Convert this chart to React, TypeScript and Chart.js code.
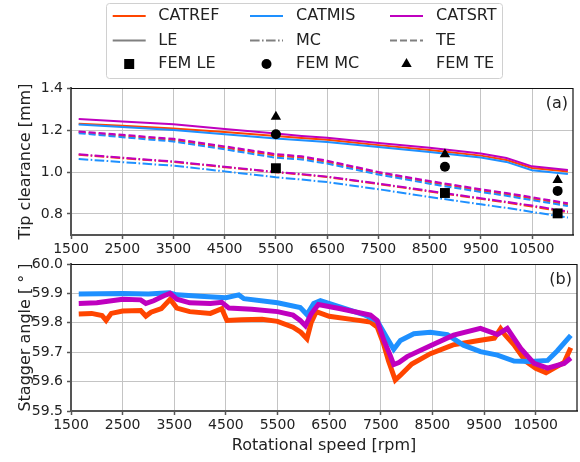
import { useEffect, useRef } from "react";
import { Chart, registerables } from "chart.js";

Chart.register(...registerables);

const FONT = "'DejaVu Sans', 'Liberation Sans', sans-serif";
const TEXT = "#222222";
const GRID = "#c4c4c4";
const SPINE = "#555555";

const REF_COLOR = "#ff4500";
const MIS_COLOR = "#1e90ff";
const SRT_COLOR = "#bf00bf";

// Shared x axis
const speedTicks = [1500, 2500, 3500, 4500, 5500, 6500, 7500, 8500, 9500, 10500];
const speedMin = 1500;
const speedMax = 11300;

// (a) tip clearance [mm]
const clearanceTicks = [0.8, 1.0, 1.2, 1.4];
const tipRpm = [1650, 2500, 3500, 4500, 5500, 6000, 6500, 7500, 8500, 9500, 10000, 10500, 11200];

const refLE = [1.23, 1.22, 1.207, 1.19, 1.172, 1.162, 1.153, 1.128, 1.105, 1.078, 1.057, 1.019, 1.002];
const misLE = [1.226, 1.214, 1.2, 1.18, 1.16, 1.151, 1.143, 1.119, 1.095, 1.069, 1.048, 1.008, 0.99];
const srtLE = [1.252, 1.241, 1.227, 1.205, 1.183, 1.172, 1.163, 1.138, 1.116, 1.088, 1.067, 1.027, 1.01];

const refMC = [1.082, 1.066, 1.048, 1.023, 0.999, 0.988, 0.976, 0.943, 0.907, 0.872, 0.855, 0.836, 0.808];
const misMC = [1.062, 1.047, 1.03, 1.003, 0.975, 0.964, 0.952, 0.918, 0.881, 0.846, 0.829, 0.81, 0.783];
const srtMC = [1.084, 1.068, 1.05, 1.025, 1.0, 0.99, 0.978, 0.945, 0.91, 0.875, 0.858, 0.84, 0.812];

const refTE = [1.19, 1.172, 1.152, 1.116, 1.078, 1.068, 1.048, 0.996, 0.952, 0.912, 0.894, 0.874, 0.845];
const misTE = [1.185, 1.166, 1.145, 1.108, 1.068, 1.06, 1.04, 0.988, 0.944, 0.905, 0.887, 0.866, 0.838];
const srtTE = [1.193, 1.177, 1.158, 1.122, 1.085, 1.075, 1.054, 1.0, 0.957, 0.918, 0.9, 0.88, 0.851];

const femRpm = [5500, 8800, 11000];
const femLE = [1.018, 0.9, 0.803];
const femMC = [1.18, 1.025, 0.91];
const femTE = [1.263, 1.085, 0.962];

// (b) stagger angle [deg]
const staggerTicks = [59.5, 59.6, 59.7, 59.8, 59.9, 60.0];

const refStaggerRpm = [
  1650, 1900, 2100, 2180, 2280, 2500, 2850, 2950, 3050, 3250, 3420, 3550, 3800, 4200, 4420, 4520,
  4800, 5200, 5500, 5800, 5950, 6070, 6150, 6250, 6500, 7000, 7300, 7430, 7550, 7650, 7780, 7900,
  8100, 8460, 8900, 9400, 9700, 9820, 9900, 10080, 10300, 10500, 10700, 10900, 11050, 11180,
];
const refStagger = [
  59.83, 59.832, 59.825, 59.808, 59.832, 59.84, 59.842, 59.823, 59.836, 59.848, 59.88, 59.85, 59.838,
  59.832, 59.848, 59.808, 59.81, 59.812, 59.805, 59.785, 59.768, 59.746, 59.8, 59.838, 59.822, 59.81,
  59.803, 59.786, 59.73, 59.67, 59.605, 59.625, 59.66, 59.695, 59.725, 59.74, 59.748, 59.78, 59.76,
  59.725, 59.67, 59.645, 59.63, 59.65, 59.665, 59.715,
];

const misStaggerRpm = [
  1650, 2500, 3000, 3400, 3550, 4000, 4500, 4750, 4850, 5500, 5940, 6070, 6200, 6330, 7170, 7430,
  7620, 7750, 7880, 8140, 8460, 8790, 9100, 9430, 9760, 10080, 10400, 10730, 10920, 11180,
];
const misStagger = [
  59.898, 59.9, 59.898, 59.902, 59.895, 59.89, 59.885, 59.895, 59.882, 59.868, 59.852, 59.828, 59.866,
  59.875, 59.828, 59.806, 59.748, 59.71, 59.74, 59.763, 59.768, 59.76, 59.724, 59.702, 59.69, 59.67,
  59.668, 59.672, 59.705, 59.757,
];

const srtStaggerRpm = [
  1650, 2000, 2500, 2850, 2950, 3100, 3300, 3420, 3550, 3800, 4200, 4420, 4560, 5000, 5500, 5800,
  5940, 6040, 6150, 6290, 6720, 7300, 7430, 7560, 7680, 7750, 7850, 8010, 8460, 8910, 9430, 9760,
  9950, 10210, 10470, 10730, 11050, 11180,
];
const srtStagger = [
  59.866, 59.868, 59.88, 59.878, 59.866, 59.875, 59.892, 59.9, 59.88, 59.868, 59.866, 59.87, 59.85,
  59.846, 59.838, 59.826, 59.808, 59.79, 59.83, 59.862, 59.848, 59.826, 59.808, 59.74, 59.69, 59.658,
  59.665, 59.685, 59.722, 59.758, 59.781, 59.76, 59.781, 59.713, 59.662, 59.646, 59.662, 59.68,
];

// Key entries
const caseNames = ["CATREF", "CATMIS", "CATSRT"];
const caseColors = [REF_COLOR, MIS_COLOR, SRT_COLOR];
const locationNames = ["LE", "MC", "TE"];
const femNames = ["FEM LE", "FEM MC", "FEM TE"];

const SOLID: number[] = [];
const DASH_DOT = [9.6, 2.4, 1.6, 2.4];
const DASHED = [7, 3];
const locationDashes = [SOLID, DASH_DOT, DASHED];
const femShapes = ["rect", "circle", "triangle"];

const pts = (xs: number[], ys: number[]) => xs.map((x, i) => ({ x, y: ys[i] }));

function drawMarker(ctx: CanvasRenderingContext2D, shape: string, x: number, y: number) {
  ctx.beginPath();
  if (shape === "rect") {
    ctx.rect(x - 5, y - 5, 10, 10);
  } else if (shape === "circle") {
    ctx.arc(x, y, 5, 0, Math.PI * 2);
  } else {
    ctx.moveTo(x, y - 6);
    ctx.lineTo(x + 5.2, y + 3);
    ctx.lineTo(x - 5.2, y + 3);
    ctx.closePath();
  }
  ctx.fill();
}

const xAxis = (height: number, withTitle: boolean): any => ({
  type: "linear",
  min: speedMin,
  max: speedMax,
  afterBuildTicks: (axis: any) => {
    axis.ticks = speedTicks.map((value) => ({ value }));
  },
  afterFit: (axis: any) => {
    axis.height = height;
  },
  ticks: {
    autoSkip: false,
    maxRotation: 0,
    padding: 2,
    color: TEXT,
    font: { family: FONT, size: 14 },
    callback: (v: number | string) => String(v),
  },
  grid: { color: GRID, lineWidth: 1, drawTicks: true, tickLength: 4, tickColor: SPINE, tickWidth: 1.5 },
  border: { color: SPINE, width: 2 },
  title: {
    display: withTitle,
    text: "Rotational speed [rpm]",
    color: TEXT,
    font: { family: FONT, size: 16 },
    padding: { top: 0, bottom: 7 },
  },
});

const yAxis = (min: number, max: number, ticks: number[], title: string): any => ({
  type: "linear",
  min,
  max,
  afterBuildTicks: (axis: any) => {
    axis.ticks = ticks.map((value) => ({ value }));
  },
  afterFit: (axis: any) => {
    axis.width = 71;
  },
  ticks: {
    autoSkip: false,
    padding: 4,
    color: TEXT,
    font: { family: FONT, size: 14 },
    callback: (v: number | string) => Number(v).toFixed(1),
  },
  grid: { color: GRID, lineWidth: 1, drawTicks: true, tickLength: 4, tickColor: SPINE, tickWidth: 1.5 },
  border: { color: SPINE, width: 2 },
  title: {
    display: true,
    text: title,
    color: TEXT,
    font: { family: FONT, size: 16 },
    padding: { top: 16, bottom: 0 },
  },
});

// Top/right frame lines and the panel tag
const framePlugin = (tag: string, tagY: number) => ({
  id: "frame-" + tag,
  afterDraw(chart: any) {
    const { ctx, chartArea: a } = chart;
    ctx.save();
    ctx.strokeStyle = "#111111";
    ctx.lineWidth = 1.2;
    ctx.beginPath();
    ctx.moveTo(a.left, a.top + 0.5);
    ctx.lineTo(a.right, a.top + 0.5);
    ctx.lineTo(a.right, a.bottom);
    ctx.stroke();
    ctx.fillStyle = TEXT;
    ctx.font = `16px ${FONT}`;
    ctx.textAlign = "right";
    ctx.textBaseline = "middle";
    ctx.fillText(tag, a.right - 5, tagY);
    ctx.restore();
  },
});

// Three-column key above panel (a)
const keyPlugin = {
  id: "seriesKey",
  afterDraw(chart: any) {
    const ctx: CanvasRenderingContext2D = chart.ctx;
    ctx.save();
    const bx = 106.5, by = 3.5, bw = 396, bh = 75, r = 3;
    ctx.beginPath();
    ctx.moveTo(bx + r, by);
    ctx.arcTo(bx + bw, by, bx + bw, by + bh, r);
    ctx.arcTo(bx + bw, by + bh, bx, by + bh, r);
    ctx.arcTo(bx, by + bh, bx, by, r);
    ctx.arcTo(bx, by, bx + bw, by, r);
    ctx.closePath();
    ctx.fillStyle = "rgba(255,255,255,0.8)";
    ctx.fill();
    ctx.strokeStyle = "#d0d0d0";
    ctx.lineWidth = 1;
    ctx.stroke();

    const handleX = [112.7, 250, 390];
    const handleW = 33;
    const textX = [158.3, 296, 436];
    const rowY = [16, 40.5, 64];
    ctx.font = `16px ${FONT}`;
    ctx.textBaseline = "middle";
    ctx.textAlign = "left";
    for (let c = 0; c < 3; c++) {
      // case colour row
      ctx.setLineDash([]);
      ctx.strokeStyle = caseColors[c];
      ctx.lineWidth = 2;
      ctx.beginPath();
      ctx.moveTo(handleX[c], rowY[0]);
      ctx.lineTo(handleX[c] + handleW, rowY[0]);
      ctx.stroke();
      ctx.fillStyle = TEXT;
      ctx.fillText(caseNames[c], textX[c], rowY[0]);

      // blade location row
      ctx.setLineDash(locationDashes[c]);
      ctx.strokeStyle = "#808080";
      ctx.beginPath();
      ctx.moveTo(handleX[c], rowY[1]);
      ctx.lineTo(handleX[c] + handleW, rowY[1]);
      ctx.stroke();
      ctx.setLineDash([]);
      ctx.fillText(locationNames[c], textX[c], rowY[1]);

      // FEM marker row
      ctx.fillStyle = "#000000";
      drawMarker(ctx, femShapes[c], handleX[c] + handleW / 2, rowY[2]);
      ctx.fillStyle = TEXT;
      ctx.fillText(femNames[c], textX[c], rowY[2]);
    }
    ctx.restore();
  },
};

const lineSet = (label: string, xs: number[], ys: number[], color: string, dash: number[], order: number, width = 2) => ({
  label,
  data: pts(xs, ys),
  borderColor: color,
  backgroundColor: color,
  borderWidth: width,
  borderDash: dash,
  pointRadius: 0,
  tension: 0,
  fill: false,
  order,
});

const femSet = (label: string, ys: number[], shape: string, radius: number) => ({
  label,
  data: pts(femRpm, ys),
  showLine: false,
  pointStyle: shape,
  pointRadius: radius,
  pointBackgroundColor: "#000000",
  pointBorderColor: "#000000",
  pointBorderWidth: 0,
  order: 0,
});

export default function App() {
  const topRef = useRef<HTMLCanvasElement>(null);
  const bottomRef = useRef<HTMLCanvasElement>(null);

  useEffect(() => {
    const top = new Chart(topRef.current!, {
      type: "line",
      data: {
        datasets: [
          lineSet("CATREF LE", tipRpm, refLE, REF_COLOR, SOLID, 3),
          lineSet("CATMIS LE", tipRpm, misLE, MIS_COLOR, SOLID, 2),
          lineSet("CATSRT LE", tipRpm, srtLE, SRT_COLOR, SOLID, 1),
          lineSet("CATREF MC", tipRpm, refMC, REF_COLOR, DASH_DOT, 3),
          lineSet("CATMIS MC", tipRpm, misMC, MIS_COLOR, DASH_DOT, 2),
          lineSet("CATSRT MC", tipRpm, srtMC, SRT_COLOR, DASH_DOT, 1),
          lineSet("CATREF TE", tipRpm, refTE, REF_COLOR, DASHED, 3),
          lineSet("CATMIS TE", tipRpm, misTE, MIS_COLOR, DASHED, 2),
          lineSet("CATSRT TE", tipRpm, srtTE, SRT_COLOR, DASHED, 1),
          femSet("FEM LE", femLE, "rect", 7),
          femSet("FEM MC", femMC, "circle", 5),
          femSet("FEM TE", femTE, "triangle", 6),
        ] as any,
      },
      options: {
        animation: false,
        responsive: true,
        maintainAspectRatio: false,
        layout: { padding: { top: 88, right: 3, left: 0, bottom: 0 } },
        plugins: { legend: { display: false }, tooltip: { enabled: false } },
        scales: {
          x: xAxis(25, false),
          y: yAxis(0.7, 1.4, clearanceTicks, "Tip clearance [mm]"),
        },
      },
      plugins: [framePlugin("(a)", 104), keyPlugin],
    });

    const bottom = new Chart(bottomRef.current!, {
      type: "line",
      data: {
        datasets: [
          lineSet("CATREF", refStaggerRpm, refStagger, REF_COLOR, SOLID, 3, 5),
          lineSet("CATMIS", misStaggerRpm, misStagger, MIS_COLOR, SOLID, 2, 5),
          lineSet("CATSRT", srtStaggerRpm, srtStagger, SRT_COLOR, SOLID, 1, 5),
        ] as any,
      },
      options: {
        animation: false,
        responsive: true,
        maintainAspectRatio: false,
        layout: { padding: { top: 16, right: 3, left: 0, bottom: 0 } },
        plugins: { legend: { display: false }, tooltip: { enabled: false } },
        scales: {
          x: xAxis(51, true),
          y: yAxis(59.5, 60.0, staggerTicks, "Stagger angle [ ° ]"),
        },
      },
      plugins: [framePlugin("(b)", 31.5)],
    });

    return () => {
      top.destroy();
      bottom.destroy();
    };
  }, []);

  return (
    <div style={{ position: "fixed", left: 0, top: 0, width: 580, height: 462, background: "#ffffff" }}>
      <div style={{ position: "absolute", left: 0, top: 0, width: 580, height: 260 }}>
        <canvas ref={topRef} />
      </div>
      <div style={{ position: "absolute", left: 0, top: 248, width: 580, height: 214 }}>
        <canvas ref={bottomRef} />
      </div>
    </div>
  );
}
